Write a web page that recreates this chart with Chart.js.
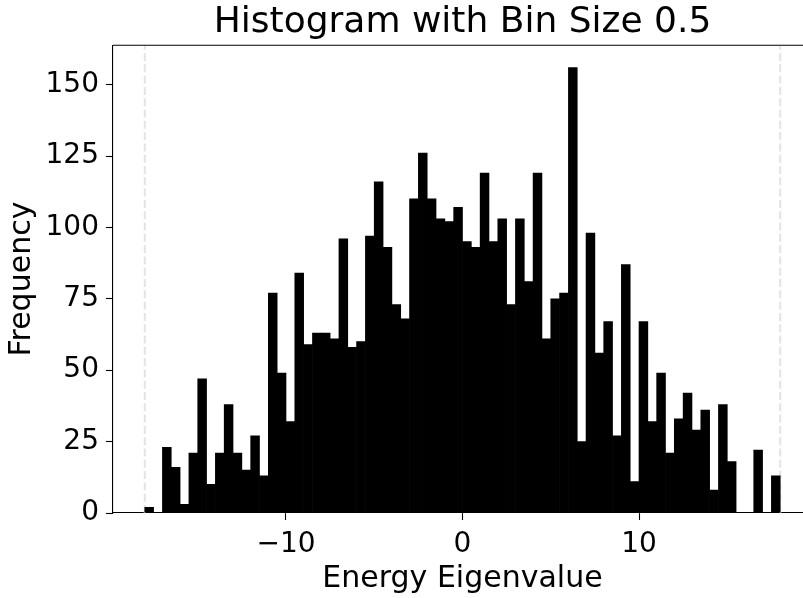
<!DOCTYPE html>
<html>
<head>
<meta charset="utf-8">
<script src="https://cdn.jsdelivr.net/npm/chart.js@4"></script>
<style>
  html, body { margin: 0; padding: 0; background: #fff; overflow: hidden; }
  #wrap { width: 803px; height: 598px; overflow: hidden; }
</style>
</head>
<body>
<!-- the original figure is clipped on the right, so the canvas is a bit wider than the window -->
<div id="wrap"><canvas id="hist" width="812" height="598"></canvas></div>
<script>
// histogram: bins of 0.5 starting at -18
const binStart = -18;
const binWidth = 0.5;
const counts = [
  2, 0, 23, 16, 3, 21, 47, 10, 21, 38, 21, 15, 27, 13, 77, 49, 32,
  84, 59, 63, 63, 61, 96, 58, 60, 97, 116, 93, 73, 68, 110, 126, 110, 103, 102, 107,
  95, 93, 119, 95, 103, 73, 103, 81, 119, 61, 75, 77, 156, 25, 98, 56, 67, 27, 87,
  11, 67, 32, 49, 21, 33, 42, 29, 36, 8, 38, 18, 0, 0, 22, 0, 13
];
const boundaryLines = [-18, 18];
const xTicks = [-10, 0, 10];
const yTicks = [0, 25, 50, 75, 100, 125, 150];

const yMax = Math.max(...counts) * 1.05;
const font = 'DejaVu Sans';

const barData = counts.map((c, i) => ({ x: binStart + binWidth * (i + 0.5), y: c }));

// dashed boundary lines sit behind the bars
const dashSets = boundaryLines.map((v) => ({
  type: 'line',
  data: [{ x: v, y: 0 }, { x: v, y: yMax }],
  borderColor: '#e3e3e3',
  borderWidth: 2,
  borderDash: [8, 3.3],
  pointRadius: 0,
  fill: false,
  order: 2,
}));

// top spine (matplotlib box)
const topSpine = {
  id: 'topSpine',
  afterDraw(chart) {
    const { ctx, chartArea } = chart;
    ctx.save();
    ctx.strokeStyle = '#000';
    ctx.lineWidth = 1.1;
    ctx.beginPath();
    ctx.moveTo(chartArea.left, chartArea.top);
    ctx.lineTo(chartArea.right, chartArea.top);
    ctx.stroke();
    ctx.restore();
  },
};

new Chart(document.getElementById('hist').getContext('2d'), {
  type: 'bar',
  data: {
    datasets: [
      {
        type: 'bar',
        data: barData,
        backgroundColor: '#000',
        borderWidth: 0,
        barPercentage: 1,
        categoryPercentage: 1,
        order: 0,
      },
      ...dashSets,
    ],
  },
  options: {
    responsive: false,
    animation: false,
    devicePixelRatio: 1,
    layout: { padding: 0 },
    plugins: {
      legend: { display: false },
      tooltip: { enabled: false },
      title: {
        display: true,
        fullSize: false,
        text: 'Histogram with Bin Size 0.5',
        color: '#000',
        font: { family: font, size: 36, weight: 'normal', lineHeight: 1.2 },
        padding: { top: 1, bottom: 1 },
      },
    },
    scales: {
      x: {
        type: 'linear',
        offset: false,
        min: -19.8,
        max: 19.8,
        afterFit: (axis) => { axis.height = 85; },
        afterBuildTicks: (axis) => { axis.ticks = xTicks.map((v) => ({ value: v })); },
        ticks: {
          color: '#000',
          padding: 8,
          maxRotation: 0,
          font: { family: font, size: 28 },
          callback: (v) => String(v).replace('-', '\u2212'),
        },
        grid: { offset: false, drawOnChartArea: false, drawTicks: true, tickLength: 7, tickColor: '#000', tickWidth: 1.1 },
        border: { display: true, color: '#000', width: 1.1 },
        title: {
          display: true,
          text: 'Energy Eigenvalue',
          color: '#000',
          font: { family: font, size: 30, lineHeight: 1.2 },
          padding: { top: 0, bottom: 1 },
        },
      },
      y: {
        min: 0,
        max: yMax,
        afterFit: (axis) => { axis.width = 113; },
        afterBuildTicks: (axis) => { axis.ticks = yTicks.map((v) => ({ value: v })); },
        ticks: {
          color: '#000',
          padding: 7,
          font: { family: font, size: 28 },
        },
        grid: { drawOnChartArea: false, drawTicks: true, tickLength: 7, tickColor: '#000', tickWidth: 1.1 },
        border: { display: true, color: '#000', width: 1.1 },
        title: {
          display: true,
          text: 'Frequency',
          color: '#000',
          font: { family: font, size: 30, lineHeight: 1.2 },
          padding: { top: 4, bottom: 0 },
        },
      },
    },
  },
  plugins: [topSpine],
});
</script>
</body>
</html>
